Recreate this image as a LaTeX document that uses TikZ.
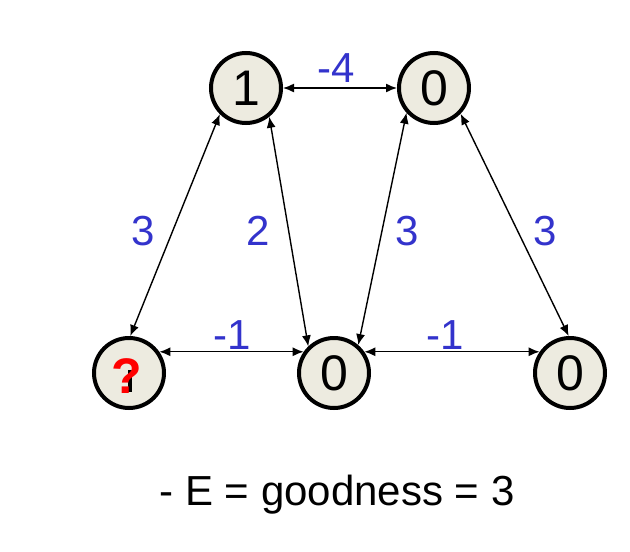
\documentclass[tikz,border=0pt]{standalone}
\usepackage{fontspec}
\setmainfont{Liberation Sans}
\usetikzlibrary{arrows.meta}
\definecolor{nodefill}{HTML}{EDEBE0}
\definecolor{wblue}{HTML}{3333CC}
\definecolor{qred}{HTML}{FF0000}
\begin{document}
\begin{tikzpicture}[x=1pt,y=-1pt,
  unit/.style={circle,draw=black,line width=4pt,fill=nodefill,minimum size=70pt,inner sep=0pt,
    font=\fontsize{50}{50}\selectfont},
  link/.style={line width=1.4pt,{Latex[length=11pt,width=9pt]}-{Latex[length=11pt,width=9pt]}},
  wlabel/.style={anchor=base,text=wblue,font=\fontsize{42}{42}\selectfont,inner sep=0pt},
  qmark/.style={text=qred,font=\fontsize{50}{50}\selectfont\bfseries,inner sep=0pt}]
\useasboundingbox (0,0) rectangle (630,552);
\node[unit] (A) at (246,88) {1};
\node[unit] (B) at (434,88) {0};
\node[unit] (C) at (129,373) {};
\fill[black] (128,370) rectangle (132,392);
\node[qmark] (Q) at (127,376) {?};
\node[unit] (D) at (334,373) {0};
\node[unit] (E) at (570,373) {0};
\draw[link] (A.0) -- (B.180);
\draw[link] (C.88) -- (A.225);
\draw[link] (A.309) -- (D.134);
\draw[link] (B.222) -- (D.49);
\draw[link] (B.316) -- (E.92);
\draw[link] (C.35) -- (D.145);
\draw[link] (D.35) -- (E.145);
\node[wlabel] (lab) at (336,82) {-4};
\node[wlabel] (lca) at (143,245) {3};
\node[wlabel] (lad) at (258,245) {2};
\node[wlabel] (lbd) at (407,245) {3};
\node[wlabel] (lbe) at (545,245) {3};
\node[wlabel] (lcd) at (232,349) {-1};
\node[wlabel] (lde) at (445,349) {-1};
\node[anchor=base,font=\fontsize{42}{42}\selectfont,inner sep=0pt] (goal) at (337,505) {- E = goodness = 3};
\end{tikzpicture}
\end{document}
